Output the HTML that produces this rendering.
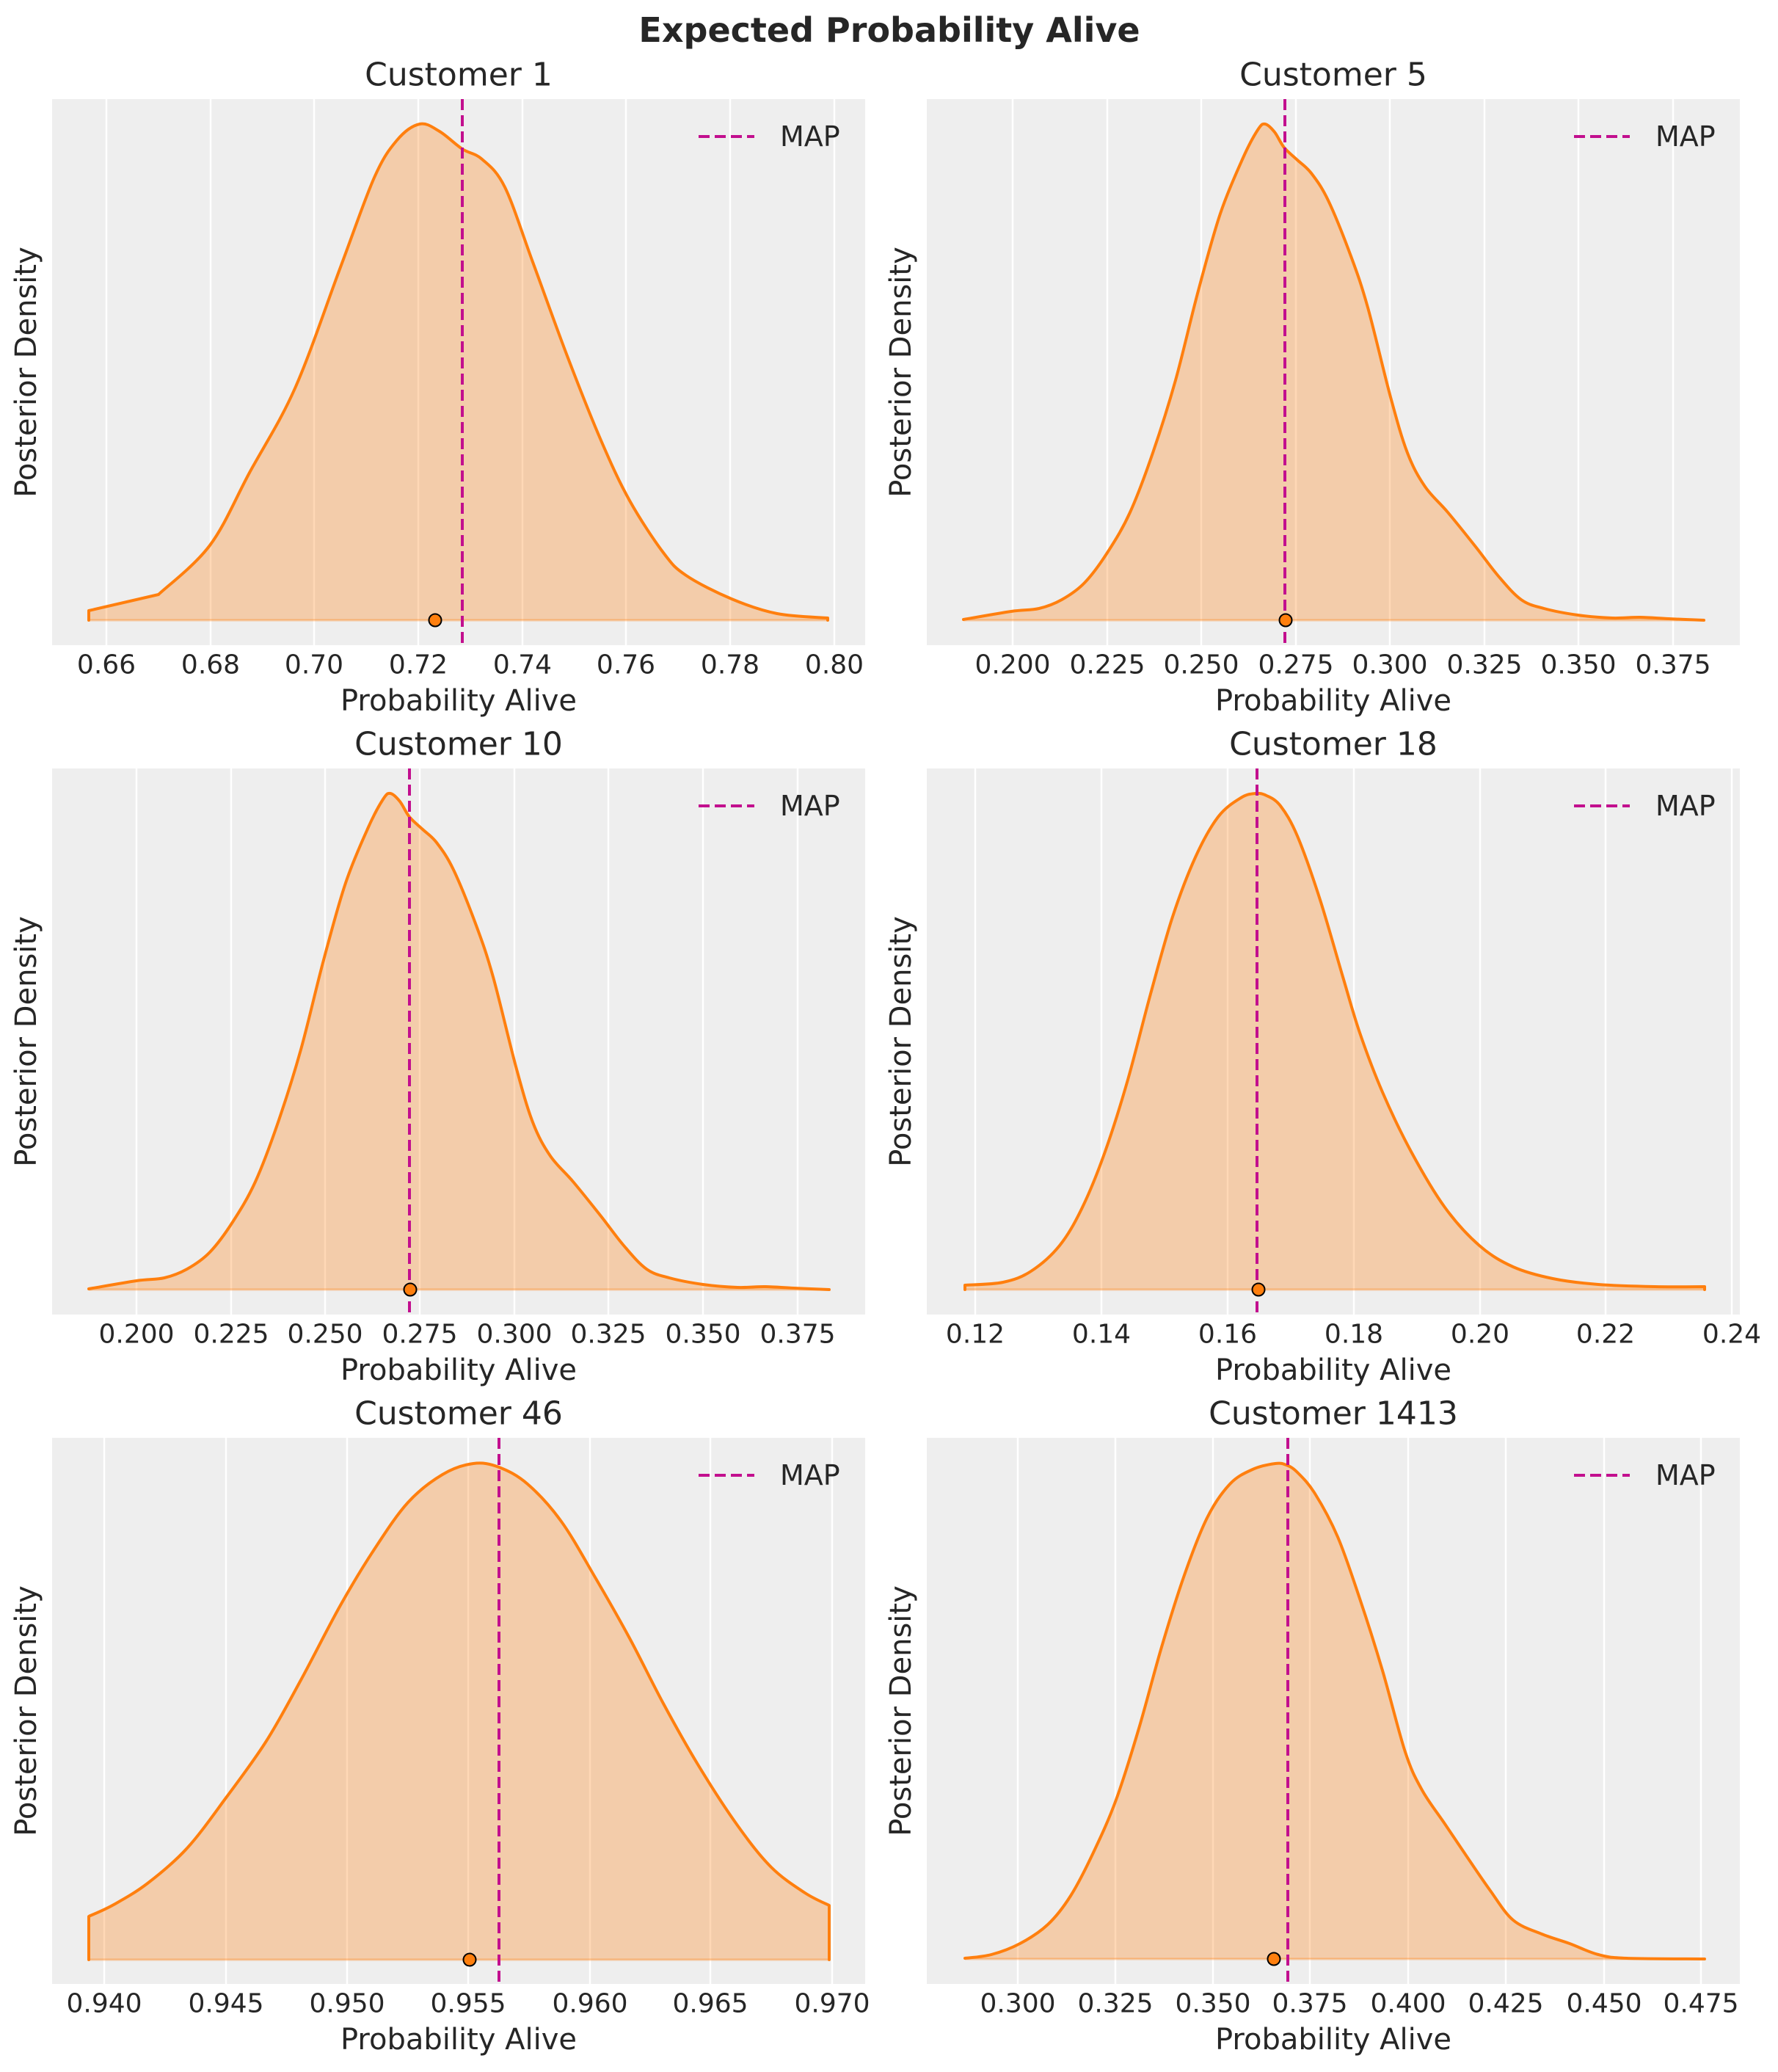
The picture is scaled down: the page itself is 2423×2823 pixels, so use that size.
<!DOCTYPE html>
<html><head><meta charset="utf-8"><style>
html,body{margin:0;padding:0;background:#fff;}
svg{display:block;}
text{font-family:"DejaVu Sans","Liberation Sans",sans-serif;fill:#262626;}
.tk{font-size:36px;text-anchor:middle;dominant-baseline:central;}
.tt{font-size:44px;text-anchor:middle;dominant-baseline:central;}
.lb{font-size:40px;text-anchor:middle;dominant-baseline:central;}
.lg{font-size:38px;dominant-baseline:central;}
.bg{fill:#eeeeee;}
.gr{stroke:#ffffff;stroke-width:2.5;}
.kde{fill:#ff7f0e;fill-opacity:0.3;stroke:none;}
.ln{fill:none;stroke:#ff7f0e;stroke-width:4;stroke-linejoin:round;stroke-linecap:round;}
.base{stroke:#ff7f0e;stroke-opacity:0.35;stroke-width:3;}
.map{stroke:#c20f8e;stroke-width:4;stroke-dasharray:15,7;}
.dot{fill:#ff7f0e;stroke:#000;stroke-width:2;}
</style></head><body>
<svg width="2423" height="2823" viewBox="0 0 2423 2823" xmlns="http://www.w3.org/2000/svg">
<rect width="2423" height="2823" fill="#fff"/>
<text x="1212" y="41" style="font-size:46px;font-weight:bold;text-anchor:middle;dominant-baseline:central;">Expected Probability Alive</text>

<!-- Panel 1 -->
<g transform="translate(0,0)">
<rect class="bg" x="71" y="135" width="1108" height="744"/>
<g class="gr"><line x1="145" y1="135" x2="145" y2="879"/><line x1="287" y1="135" x2="287" y2="879"/><line x1="428" y1="135" x2="428" y2="879"/><line x1="570" y1="135" x2="570" y2="879"/><line x1="712" y1="135" x2="712" y2="879"/><line x1="853" y1="135" x2="853" y2="879"/><line x1="995" y1="135" x2="995" y2="879"/><line x1="1137" y1="135" x2="1137" y2="879"/></g>
<text x="145" y="906" class="tk">0.66</text><text x="287" y="906" class="tk">0.68</text><text x="428" y="906" class="tk">0.70</text><text x="570" y="906" class="tk">0.72</text><text x="712" y="906" class="tk">0.74</text><text x="853" y="906" class="tk">0.76</text><text x="995" y="906" class="tk">0.78</text><text x="1137" y="906" class="tk">0.80</text>
<path class="kde sm" data-pre="121,845 121,832" data-post="1128,845" data-pts="216,810 286,743 340,644 402,529 464,364 510,242 541,191 572,169 599,179 630,203 657,217 688,255 726,357 773,485 819,600 858,682 904,753 935,784 997,816 1059,836 1128,842" d="M121,845 L121,832 L216,810 L286,743 L340,644 L402,529 L464,364 L510,242 L541,191 L572,169 L599,179 L630,203 L657,217 L688,255 L726,357 L773,485 L819,600 L858,682 L904,753 L935,784 L997,816 L1059,836 L1128,842 L1128,845 Z"/>
<line class="base" x1="121" y1="845" x2="1128" y2="845"/>
<path class="ln sm" data-pre="121,845 121,832" data-post="1128,845" data-open="1" data-pts="216,810 286,743 340,644 402,529 464,364 510,242 541,191 572,169 599,179 630,203 657,217 688,255 726,357 773,485 819,600 858,682 904,753 935,784 997,816 1059,836 1128,842" d="M121,845 L121,832 L216,810 L286,743 L340,644 L402,529 L464,364 L510,242 L541,191 L572,169 L599,179 L630,203 L657,217 L688,255 L726,357 L773,485 L819,600 L858,682 L904,753 L935,784 L997,816 L1059,836 L1128,842 L1128,845"/>
<line class="map" x1="630" y1="135" x2="630" y2="879"/>
<circle class="dot" cx="593" cy="845" r="8.5"/>
<line class="map" x1="952" y1="186" x2="1028" y2="186"/>
<text class="lg" x="1063" y="186">MAP</text>
<text class="tt" x="625" y="102">Customer 1</text>
<text class="lb" x="625" y="955">Probability Alive</text>
<text class="lb" x="36" y="507" transform="rotate(-90 36 507)">Posterior Density</text>
</g>

<!-- Panel 2 -->
<g transform="translate(1192,0)">
<rect class="bg" x="71" y="135" width="1108" height="744"/>
<g class="gr"><line x1="188" y1="135" x2="188" y2="879"/><line x1="317" y1="135" x2="317" y2="879"/><line x1="445" y1="135" x2="445" y2="879"/><line x1="574" y1="135" x2="574" y2="879"/><line x1="702" y1="135" x2="702" y2="879"/><line x1="831" y1="135" x2="831" y2="879"/><line x1="959" y1="135" x2="959" y2="879"/><line x1="1088" y1="135" x2="1088" y2="879"/></g>
<text x="188" y="906" class="tk">0.200</text><text x="317" y="906" class="tk">0.225</text><text x="445" y="906" class="tk">0.250</text><text x="574" y="906" class="tk">0.275</text><text x="702" y="906" class="tk">0.300</text><text x="831" y="906" class="tk">0.325</text><text x="959" y="906" class="tk">0.350</text><text x="1088" y="906" class="tk">0.375</text>
<path class="kde sm" data-pre="121,845" data-post="1130,845" data-pts="121,844 186,833 224,829 255,817 286,794 317,753 348,698 379,617 410,518 441,396 471,291 502,215 522,177 532,169 545,180 558,201 576,218 595,236 618,273 649,349 672,419 703,541 726,617 750,663 781,698 819,745 850,785 881,817 912,829 958,838 1005,842 1043,841 1082,843 1130,845" d="M121,845 L121,844 L186,833 L224,829 L255,817 L286,794 L317,753 L348,698 L379,617 L410,518 L441,396 L471,291 L502,215 L522,177 L532,169 L545,180 L558,201 L576,218 L595,236 L618,273 L649,349 L672,419 L703,541 L726,617 L750,663 L781,698 L819,745 L850,785 L881,817 L912,829 L958,838 L1005,842 L1043,841 L1082,843 L1130,845 Z"/>
<line class="base" x1="121" y1="845" x2="1130" y2="845"/>
<path class="ln sm" data-open="1" data-pts="121,844 186,833 224,829 255,817 286,794 317,753 348,698 379,617 410,518 441,396 471,291 502,215 522,177 532,169 545,180 558,201 576,218 595,236 618,273 649,349 672,419 703,541 726,617 750,663 781,698 819,745 850,785 881,817 912,829 958,838 1005,842 1043,841 1082,843 1130,845" d="M121,844 L186,833 L224,829 L255,817 L286,794 L317,753 L348,698 L379,617 L410,518 L441,396 L471,291 L502,215 L522,177 L532,169 L545,180 L558,201 L576,218 L595,236 L618,273 L649,349 L672,419 L703,541 L726,617 L750,663 L781,698 L819,745 L850,785 L881,817 L912,829 L958,838 L1005,842 L1043,841 L1082,843 L1130,845"/>
<line class="map" x1="559" y1="135" x2="559" y2="879"/>
<circle class="dot" cx="560" cy="845" r="8.5"/>
<line class="map" x1="953" y1="186" x2="1029" y2="186"/>
<text class="lg" x="1064" y="186">MAP</text>
<text class="tt" x="625" y="102">Customer 5</text>
<text class="lb" x="625" y="955">Probability Alive</text>
<text class="lb" x="36" y="507" transform="rotate(-90 36 507)">Posterior Density</text>
</g>

<!-- Panel 3 -->
<g transform="translate(0,912)">
<rect class="bg" x="71" y="135" width="1108" height="744"/>
<g class="gr"><line x1="186" y1="135" x2="186" y2="879"/><line x1="315" y1="135" x2="315" y2="879"/><line x1="443" y1="135" x2="443" y2="879"/><line x1="572" y1="135" x2="572" y2="879"/><line x1="701" y1="135" x2="701" y2="879"/><line x1="829" y1="135" x2="829" y2="879"/><line x1="958" y1="135" x2="958" y2="879"/><line x1="1087" y1="135" x2="1087" y2="879"/></g>
<text x="186" y="906" class="tk">0.200</text><text x="315" y="906" class="tk">0.225</text><text x="443" y="906" class="tk">0.250</text><text x="572" y="906" class="tk">0.275</text><text x="701" y="906" class="tk">0.300</text><text x="829" y="906" class="tk">0.325</text><text x="958" y="906" class="tk">0.350</text><text x="1087" y="906" class="tk">0.375</text>
<path class="kde sm" data-pre="121,845" data-post="1130,845" data-pts="121,844 186,833 224,829 255,817 286,794 317,753 348,698 379,617 410,518 441,396 471,291 502,215 522,177 532,169 545,180 558,201 576,218 595,236 618,273 649,349 672,419 703,541 726,617 750,663 781,698 819,745 850,785 881,817 912,829 958,838 1005,842 1043,841 1082,843 1130,845" d="M121,845 L121,844 L186,833 L224,829 L255,817 L286,794 L317,753 L348,698 L379,617 L410,518 L441,396 L471,291 L502,215 L522,177 L532,169 L545,180 L558,201 L576,218 L595,236 L618,273 L649,349 L672,419 L703,541 L726,617 L750,663 L781,698 L819,745 L850,785 L881,817 L912,829 L958,838 L1005,842 L1043,841 L1082,843 L1130,845 Z"/>
<line class="base" x1="121" y1="845" x2="1130" y2="845"/>
<path class="ln sm" data-open="1" data-pts="121,844 186,833 224,829 255,817 286,794 317,753 348,698 379,617 410,518 441,396 471,291 502,215 522,177 532,169 545,180 558,201 576,218 595,236 618,273 649,349 672,419 703,541 726,617 750,663 781,698 819,745 850,785 881,817 912,829 958,838 1005,842 1043,841 1082,843 1130,845" d="M121,844 L186,833 L224,829 L255,817 L286,794 L317,753 L348,698 L379,617 L410,518 L441,396 L471,291 L502,215 L522,177 L532,169 L545,180 L558,201 L576,218 L595,236 L618,273 L649,349 L672,419 L703,541 L726,617 L750,663 L781,698 L819,745 L850,785 L881,817 L912,829 L958,838 L1005,842 L1043,841 L1082,843 L1130,845"/>
<line class="map" x1="558" y1="135" x2="558" y2="879"/>
<circle class="dot" cx="559" cy="845" r="8.5"/>
<line class="map" x1="952" y1="186" x2="1028" y2="186"/>
<text class="lg" x="1063" y="186">MAP</text>
<text class="tt" x="625" y="102">Customer 10</text>
<text class="lb" x="625" y="955">Probability Alive</text>
<text class="lb" x="36" y="507" transform="rotate(-90 36 507)">Posterior Density</text>
</g>

<!-- Panel 4 -->
<g transform="translate(1192,912)">
<rect class="bg" x="71" y="135" width="1108" height="744"/>
<g class="gr"><line x1="137" y1="135" x2="137" y2="879"/><line x1="309" y1="135" x2="309" y2="879"/><line x1="481" y1="135" x2="481" y2="879"/><line x1="653" y1="135" x2="653" y2="879"/><line x1="825" y1="135" x2="825" y2="879"/><line x1="996" y1="135" x2="996" y2="879"/><line x1="1168" y1="135" x2="1168" y2="879"/></g>
<text x="137" y="906" class="tk">0.12</text><text x="309" y="906" class="tk">0.14</text><text x="481" y="906" class="tk">0.16</text><text x="653" y="906" class="tk">0.18</text><text x="825" y="906" class="tk">0.20</text><text x="996" y="906" class="tk">0.22</text><text x="1168" y="906" class="tk">0.24</text>
<path class="kde sm" data-pre="123,845" data-post="1131,845" data-pts="123,839 175,835 213,820 252,785 283,733 314,657 345,559 376,442 406,337 437,256 468,201 499,175 519,169 534,172 553,186 576,227 607,314 638,419 661,495 692,576 731,657 777,733 824,785 870,814 924,830 986,838 1063,841 1131,841" d="M123,845 L123,839 L175,835 L213,820 L252,785 L283,733 L314,657 L345,559 L376,442 L406,337 L437,256 L468,201 L499,175 L519,169 L534,172 L553,186 L576,227 L607,314 L638,419 L661,495 L692,576 L731,657 L777,733 L824,785 L870,814 L924,830 L986,838 L1063,841 L1131,841 L1131,845 Z"/>
<line class="base" x1="123" y1="845" x2="1131" y2="845"/>
<path class="ln sm" data-pre="123,845" data-post="1131,845" data-open="1" data-pts="123,839 175,835 213,820 252,785 283,733 314,657 345,559 376,442 406,337 437,256 468,201 499,175 519,169 534,172 553,186 576,227 607,314 638,419 661,495 692,576 731,657 777,733 824,785 870,814 924,830 986,838 1063,841 1131,841" d="M123,845 L123,839 L175,835 L213,820 L252,785 L283,733 L314,657 L345,559 L376,442 L406,337 L437,256 L468,201 L499,175 L519,169 L534,172 L553,186 L576,227 L607,314 L638,419 L661,495 L692,576 L731,657 L777,733 L824,785 L870,814 L924,830 L986,838 L1063,841 L1131,841 L1131,845"/>
<line class="map" x1="521" y1="135" x2="521" y2="879"/>
<circle class="dot" cx="523" cy="845" r="8.5"/>
<line class="map" x1="953" y1="186" x2="1029" y2="186"/>
<text class="lg" x="1064" y="186">MAP</text>
<text class="tt" x="625" y="102">Customer 18</text>
<text class="lb" x="625" y="955">Probability Alive</text>
<text class="lb" x="36" y="507" transform="rotate(-90 36 507)">Posterior Density</text>
</g>

<!-- Panel 5 -->
<g transform="translate(0,1824)">
<rect class="bg" x="71" y="135" width="1108" height="744"/>
<g class="gr"><line x1="142" y1="135" x2="142" y2="879"/><line x1="308" y1="135" x2="308" y2="879"/><line x1="473" y1="135" x2="473" y2="879"/><line x1="638" y1="135" x2="638" y2="879"/><line x1="804" y1="135" x2="804" y2="879"/><line x1="968" y1="135" x2="968" y2="879"/><line x1="1134" y1="135" x2="1134" y2="879"/></g>
<text x="142" y="906" class="tk">0.940</text><text x="308" y="906" class="tk">0.945</text><text x="473" y="906" class="tk">0.950</text><text x="638" y="906" class="tk">0.955</text><text x="804" y="906" class="tk">0.960</text><text x="968" y="906" class="tk">0.965</text><text x="1134" y="906" class="tk">0.970</text>
<path class="kde sm" data-pre="121,846" data-post="1130,846" data-pts="121,787 155,771 201,742 255,694 309,624 363,548 410,465 464,363 510,287 556,223 603,185 645,170 680,175 719,198 765,249 811,325 858,408 904,497 951,580 1005,663 1051,720 1097,755 1130,772" d="M121,846 L121,787 L155,771 L201,742 L255,694 L309,624 L363,548 L410,465 L464,363 L510,287 L556,223 L603,185 L645,170 L680,175 L719,198 L765,249 L811,325 L858,408 L904,497 L951,580 L1005,663 L1051,720 L1097,755 L1130,772 L1130,846 Z"/>
<line class="base" x1="121" y1="846" x2="1130" y2="846"/>
<path class="ln sm" data-pre="121,846" data-post="1130,846" data-open="1" data-pts="121,787 155,771 201,742 255,694 309,624 363,548 410,465 464,363 510,287 556,223 603,185 645,170 680,175 719,198 765,249 811,325 858,408 904,497 951,580 1005,663 1051,720 1097,755 1130,772" d="M121,846 L121,787 L155,771 L201,742 L255,694 L309,624 L363,548 L410,465 L464,363 L510,287 L556,223 L603,185 L645,170 L680,175 L719,198 L765,249 L811,325 L858,408 L904,497 L951,580 L1005,663 L1051,720 L1097,755 L1130,772 L1130,846"/>
<line class="map" x1="680" y1="135" x2="680" y2="879"/>
<circle class="dot" cx="640" cy="846" r="8.5"/>
<line class="map" x1="952" y1="186" x2="1028" y2="186"/>
<text class="lg" x="1063" y="186">MAP</text>
<text class="tt" x="625" y="102">Customer 46</text>
<text class="lb" x="625" y="955">Probability Alive</text>
<text class="lb" x="36" y="507" transform="rotate(-90 36 507)">Posterior Density</text>
</g>

<!-- Panel 6 -->
<g transform="translate(1192,1824)">
<rect class="bg" x="71" y="135" width="1108" height="744"/>
<g class="gr"><line x1="195" y1="135" x2="195" y2="879"/><line x1="328" y1="135" x2="328" y2="879"/><line x1="461" y1="135" x2="461" y2="879"/><line x1="593" y1="135" x2="593" y2="879"/><line x1="727" y1="135" x2="727" y2="879"/><line x1="860" y1="135" x2="860" y2="879"/><line x1="994" y1="135" x2="994" y2="879"/><line x1="1126" y1="135" x2="1126" y2="879"/></g>
<text x="195" y="906" class="tk">0.300</text><text x="328" y="906" class="tk">0.325</text><text x="461" y="906" class="tk">0.350</text><text x="593" y="906" class="tk">0.375</text><text x="727" y="906" class="tk">0.400</text><text x="860" y="906" class="tk">0.425</text><text x="994" y="906" class="tk">0.450</text><text x="1126" y="906" class="tk">0.475</text>
<path class="kde sm" data-pre="123,845" data-post="1131,845" data-pts="123,844 159,839 198,824 236,798 267,759 298,700 329,628 360,531 391,420 422,322 453,244 484,198 515,178 546,170 561,172 576,182 600,211 631,270 661,354 692,452 723,563 746,615 777,661 808,707 839,752 870,792 909,811 947,824 986,839 1025,844 1131,845" d="M123,845 L123,844 L159,839 L198,824 L236,798 L267,759 L298,700 L329,628 L360,531 L391,420 L422,322 L453,244 L484,198 L515,178 L546,170 L561,172 L576,182 L600,211 L631,270 L661,354 L692,452 L723,563 L746,615 L777,661 L808,707 L839,752 L870,792 L909,811 L947,824 L986,839 L1025,844 L1131,845 Z"/>
<line class="base" x1="123" y1="845" x2="1131" y2="845"/>
<path class="ln sm" data-open="1" data-pts="123,844 159,839 198,824 236,798 267,759 298,700 329,628 360,531 391,420 422,322 453,244 484,198 515,178 546,170 561,172 576,182 600,211 631,270 661,354 692,452 723,563 746,615 777,661 808,707 839,752 870,792 909,811 947,824 986,839 1025,844 1131,845" d="M123,844 L159,839 L198,824 L236,798 L267,759 L298,700 L329,628 L360,531 L391,420 L422,322 L453,244 L484,198 L515,178 L546,170 L561,172 L576,182 L600,211 L631,270 L661,354 L692,452 L723,563 L746,615 L777,661 L808,707 L839,752 L870,792 L909,811 L947,824 L986,839 L1025,844 L1131,845"/>
<line class="map" x1="563" y1="135" x2="563" y2="879"/>
<circle class="dot" cx="544" cy="845" r="8.5"/>
<line class="map" x1="953" y1="186" x2="1029" y2="186"/>
<text class="lg" x="1064" y="186">MAP</text>
<text class="tt" x="625" y="102">Customer 1413</text>
<text class="lb" x="625" y="955">Probability Alive</text>
<text class="lb" x="36" y="507" transform="rotate(-90 36 507)">Posterior Density</text>
</g>
</svg>
<script>
(function(){
function parse(s){return s?s.trim().split(/\s+/).map(function(p){var a=p.split(',');return [+a[0],+a[1]];}):[];}
var els=document.querySelectorAll('.sm');
for(var i=0;i<els.length;i++){
var el=els[i];var pts=parse(el.getAttribute('data-pts'));
var pre=parse(el.getAttribute('data-pre'));var post=parse(el.getAttribute('data-post'));
if(pts.length<3)continue;
var d='';
if(pre.length){d='M'+pre[0][0]+','+pre[0][1];for(var k=1;k<pre.length;k++)d+=' L'+pre[k][0]+','+pre[k][1];d+=' L'+pts[0][0]+','+pts[0][1];}
else d='M'+pts[0][0]+','+pts[0][1];
for(var j=0;j<pts.length-1;j++){
var p0=pts[j>0?j-1:j],p1=pts[j],p2=pts[j+1],p3=pts[j+2<pts.length?j+2:j+1];
var c1x=p1[0]+(p2[0]-p0[0])/6,c1y=p1[1]+(p2[1]-p0[1])/6;
var c2x=p2[0]-(p3[0]-p1[0])/6,c2y=p2[1]-(p3[1]-p1[1])/6;
d+=' C'+c1x.toFixed(1)+','+c1y.toFixed(1)+' '+c2x.toFixed(1)+','+c2y.toFixed(1)+' '+p2[0]+','+p2[1];}
for(var m=0;m<post.length;m++)d+=' L'+post[m][0]+','+post[m][1];
if(!el.getAttribute('data-open'))d+=' Z';
el.setAttribute('d',d);}
})();
</script>
</body></html>
